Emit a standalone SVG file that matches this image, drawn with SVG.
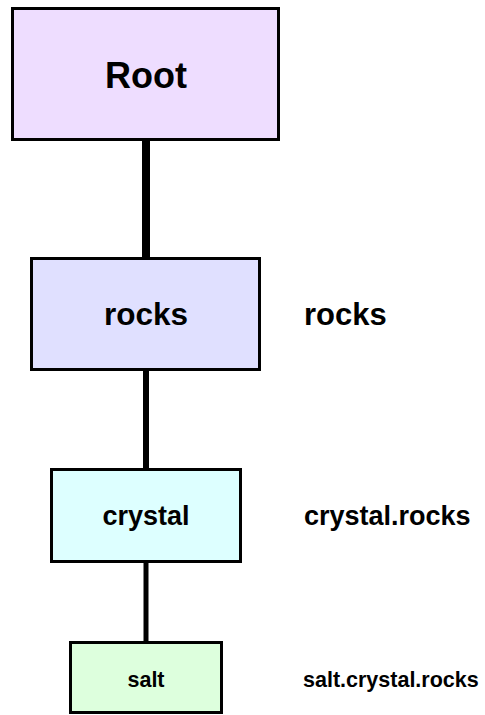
<svg xmlns="http://www.w3.org/2000/svg" width="485" height="715" viewBox="0 0 485 715">
<style>
.box{stroke:#000;stroke-width:3}
.t{font-family:"Liberation Sans",Arial,sans-serif;font-weight:bold;fill:#000}
.c{text-anchor:middle}
.edge{stroke:#000;fill:none}
</style>
<rect width="485" height="715" fill="#fff"/>
<g id="connectors">
<line class="edge" x1="146" y1="140" x2="146" y2="258" stroke-width="8"/>
<line class="edge" x1="146" y1="370" x2="146" y2="469" stroke-width="6"/>
<line class="edge" x1="146" y1="562" x2="146" y2="642" stroke-width="5"/>
</g>
<g id="node-root">
<rect class="box" x="12.5" y="8.5" width="266" height="131" fill="#EEDDFF"/>
<text class="t c" x="146" y="88" font-size="36">Root</text>
</g>
<g id="node-rocks">
<rect class="box" x="31.5" y="258.5" width="228" height="111" fill="#E0E0FF"/>
<text class="t c" x="146" y="325" font-size="31.5">rocks</text>
</g>
<g id="node-crystal">
<rect class="box" x="51.5" y="469.5" width="189" height="92" fill="#DDFFFF"/>
<text class="t c" x="146" y="525" font-size="27">crystal</text>
</g>
<g id="node-salt">
<rect class="box" x="70.5" y="642.5" width="151" height="70" fill="#DDFFDD"/>
<text class="t c" x="146" y="687" font-size="21.5">salt</text>
</g>
<g id="labels">
<text class="t" x="304" y="325" font-size="31">rocks</text>
<text class="t" x="304" y="525" font-size="27">crystal.rocks</text>
<text class="t" x="303" y="687" font-size="21.5">salt.crystal.rocks</text>
</g>
</svg>
